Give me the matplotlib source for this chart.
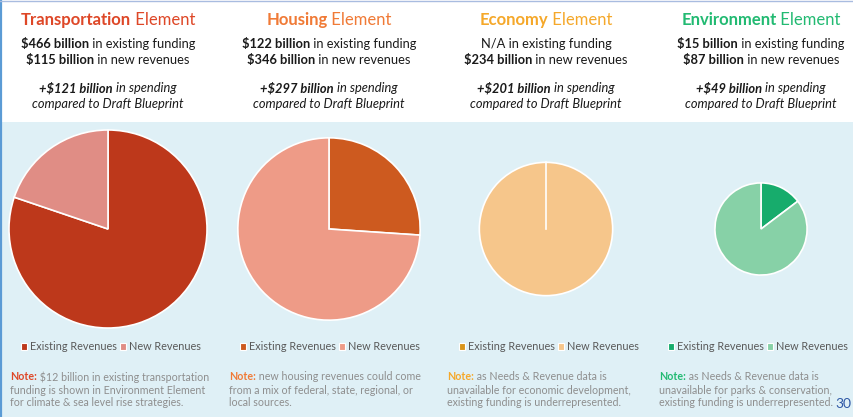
import numpy as np
import matplotlib.pyplot as plt
from matplotlib.patches import Rectangle, Patch
from matplotlib.lines import Line2D

# funding by element, $ billions
elements = ["Transportation", "Housing", "Economy", "Environment"]
existing_funding = [466, 122, None, 15]
new_revenues = [115, 346, 234, 87]
spending_change = [121, 297, 201, 49]
notes = [
    ["$12 billion in existing transportation",
     "funding is shown in Environment Element",
     "for climate & sea level rise strategies."],
    ["new housing revenues could come",
     "from a mix of federal, state, regional, or",
     "local sources."],
    ["as Needs & Revenue data is",
     "unavailable for economic development,",
     "existing funding is underrepresented."],
    ["as Needs & Revenue data is",
     "unavailable for parks & conservation,",
     "existing funding is underrepresented."],
]
page_number = "30"

# styling per panel
title_colors = ["#DE4727", "#F07A36", "#F5A82A", "#22BA72"]
existing_colors = ["#BD381B", "#CD5A1F", "#D9951B", "#17AC6C"]
new_colors = ["#E08D85", "#EE9B87", "#F6C68B", "#87D1A7"]

W, H = 854, 417
centers_x = [108, 329, 546, 761]
legend_x = [111, 330, 549, 758]
pie_y = 229
pie_radius = [101, 93, 68, 47]
note_x = [10, 229, 447, 659]
START = 90

FONT = "Lato"
DARK = "#1A1A1A"
GREY = "#8E8E8E"

fig = plt.figure(figsize=(W / 100, H / 100), dpi=100)
fig.patch.set_facecolor("white")


def fx(px):
    return px / W


def fy(py):
    return 1 - py / H


# light blue band behind the pies, borders
fig.add_artist(Rectangle((fx(2), 0), 1, fy(122), transform=fig.transFigure,
                         facecolor="#DFF0F6", edgecolor="none", zorder=0))
fig.add_artist(Line2D([fx(1), fx(1)], [0, 1], transform=fig.transFigure,
                      color="#5B9BD5", lw=1.6))
fig.add_artist(Line2D([0, 1], [fy(0.5), fy(0.5)], transform=fig.transFigure,
                      color="#A9BCE0", lw=1.0))

renderer = fig.canvas.get_renderer()


def rich_line(x, y, parts, ha="center"):
    """Draw a line made of differently styled pieces, centred or left-aligned at x."""
    texts = []
    widths = []
    for s, props in parts:
        t = fig.text(0, y, s, va="center", ha="left", fontfamily=FONT, **props)
        widths.append(t.get_window_extent(renderer).width)
        texts.append(t)
    total = sum(widths)
    start = x - total / 2 if ha == "center" else x
    for t, w in zip(texts, widths):
        t.set_x(fx(start))
        start += w


TS = 12
BS = 9.3
NS = 7.7

for i, name in enumerate(elements):
    cx = centers_x[i]
    col = title_colors[i]

    # title
    rich_line(cx, fy(20), [(name, dict(fontsize=TS, fontweight="bold", color=col)),
                           (" Element", dict(fontsize=TS, color=col))])

    # funding lines
    if existing_funding[i] is None:
        rich_line(cx, fy(44), [("N/A in existing funding", dict(fontsize=BS, color=DARK))])
    else:
        rich_line(cx, fy(44), [(f"${existing_funding[i]} billion", dict(fontsize=BS, fontweight="bold", color=DARK)),
                               (" in existing funding", dict(fontsize=BS, color=DARK))])
    rich_line(cx, fy(60), [(f"${new_revenues[i]} billion", dict(fontsize=BS, fontweight="bold", color=DARK)),
                           (" in new revenues", dict(fontsize=BS, color=DARK))])
    rich_line(cx, fy(88), [(f"+${spending_change[i]} billion",
                            dict(fontsize=BS, fontweight="bold", fontstyle="italic", color=DARK)),
                           (" in spending", dict(fontsize=BS, fontstyle="italic", color=DARK))])
    rich_line(cx, fy(104), [("compared to Draft Blueprint",
                             dict(fontsize=BS, fontstyle="italic", color=DARK))])

    # pie
    r = pie_radius[i]
    ax = fig.add_axes([fx(cx - r), fy(pie_y + r), fx(2 * r), 2 * r / H])
    vals = [existing_funding[i] or 0, new_revenues[i]]
    ax.pie(vals, colors=[existing_colors[i], new_colors[i]], startangle=START,
           counterclock=False, radius=1,
           wedgeprops=dict(edgecolor="white", linewidth=1.2))
    if min(vals) == 0:
        # a full-circle wedge has no radial edge, draw the seam at the start angle
        a = np.deg2rad(START)
        ax.plot([0, np.cos(a)], [0, np.sin(a)], color="white", lw=1.2)
    ax.set_xlim(-1.02, 1.02)
    ax.set_ylim(-1.02, 1.02)
    ax.set_aspect("equal")
    ax.axis("off")

    # legend
    handles = [Patch(facecolor=existing_colors[i], edgecolor="white", lw=0.8),
               Patch(facecolor=new_colors[i], edgecolor="white", lw=0.8)]
    fig.legend(handles, ["Existing Revenues", "New Revenues"], loc="center",
               bbox_to_anchor=(fx(legend_x[i]), fy(347)), ncol=2, frameon=False,
               handlelength=0.55, handleheight=0.55, handletextpad=0.3,
               columnspacing=0.3, borderaxespad=0, borderpad=0,
               prop=dict(family=FONT, size=7.8), labelcolor="#595959")

    # note
    nx = note_x[i]
    rich_line(nx, fy(377), [("Note:", dict(fontsize=NS, fontweight="bold", color=col)),
                            (" " + notes[i][0], dict(fontsize=NS, color=GREY))], ha="left")
    for k, line in enumerate(notes[i][1:]):
        fig.text(fx(nx), fy(390 + 13 * k), line, va="center", ha="left",
                 fontfamily=FONT, fontsize=NS, color=GREY)

fig.text(fx(835), fy(404), page_number, ha="left", va="center",
         fontfamily=FONT, fontsize=10, color="#2E58A6")

fig.savefig("out.png", dpi=100)
